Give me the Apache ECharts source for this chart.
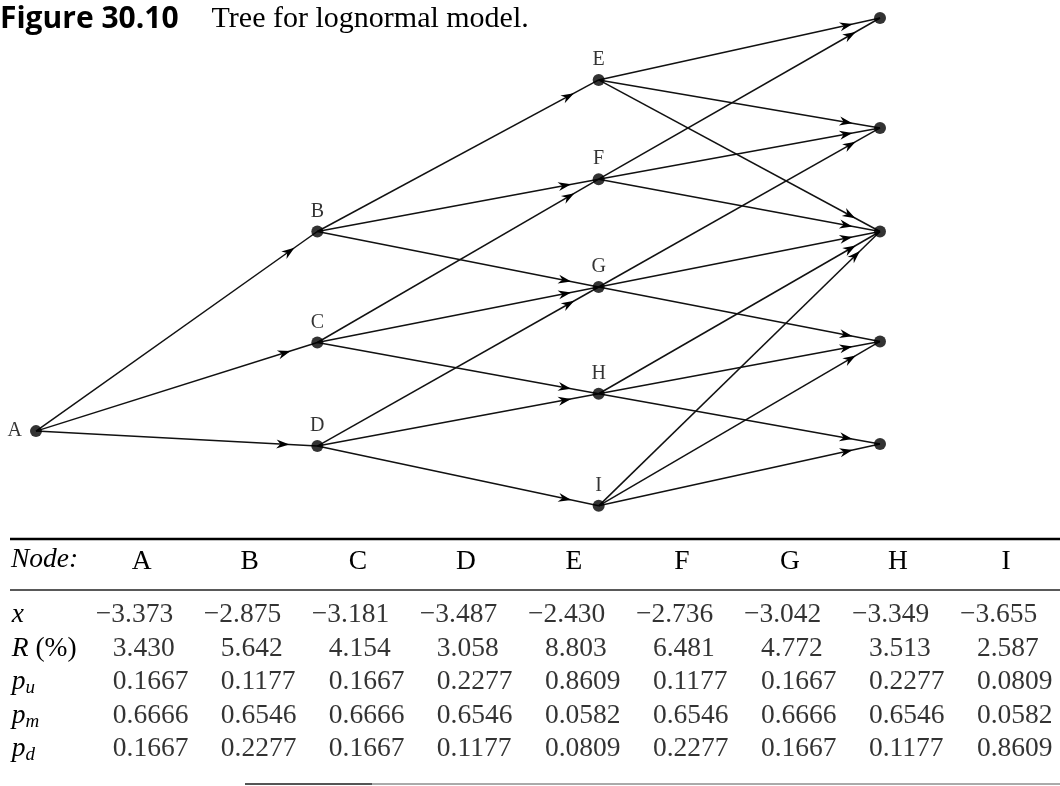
<!DOCTYPE html>
<html><head><meta charset="utf-8">
<script src="https://cdn.jsdelivr.net/npm/echarts@6/dist/echarts.min.js"></script>
<style>html,body{margin:0;padding:0;background:#fff}#c{width:1060px;height:786px}</style>
</head><body><div id="c"></div>
<script>
// ---- Tree data ----
const nodeNames  = ['A','B','C','D','E','F','G','H','I','T0','T1','T2','T3','T4'];
const nodeStep   = [0, 1, 1, 1, 2, 2, 2, 2, 2, 3, 3, 3, 3, 3];
const nodePos    = [-1.87, 0, -1.04, -2.01, 1.42, 0.49, -0.52, -1.52, -2.57, 2.0, 0.97, 0, -1.03, -1.99];
const nodeLabels = ['A','B','C','D','E','F','G','H','I','','','','',''];
const edgeFrom = ['A','A','A','B','B','B','C','C','C','D','D','D','E','E','E','F','F','F','G','G','G','H','H','H','I','I','I'];
const edgeTo   = ['B','C','D','E','F','G','F','G','H','G','H','I','T0','T1','T2','T0','T1','T2','T1','T2','T3','T2','T3','T4','T2','T3','T4'];

// ---- Table data ----
const tableNodes = ['A','B','C','D','E','F','G','H','I'];
const xValues  = [-3.373,-2.875,-3.181,-3.487,-2.430,-2.736,-3.042,-3.349,-3.655];
const rValues  = [3.430,5.642,4.154,3.058,8.803,6.481,4.772,3.513,2.587];
const puValues = [0.1667,0.1177,0.1667,0.2277,0.8609,0.1177,0.1667,0.2277,0.0809];
const pmValues = [0.6666,0.6546,0.6666,0.6546,0.0582,0.6546,0.6666,0.6546,0.0582];
const pdValues = [0.1667,0.2277,0.1667,0.1177,0.0809,0.2277,0.1667,0.1177,0.8609];
const rowLabels   = ['x','R (%)','p_u','p_m','p_d'];
const rowDecimals = [3, 3, 4, 4, 4];

const SERIF = '"Liberation Serif", "Times New Roman", serif';
const INK = '#000';
const TFS = 27.5;

const idx = {};
nodeNames.forEach((n,i)=>idx[n]=i);
const nodeData = nodeNames.map((n,i)=>{
  const d = {value:[nodeStep[i], nodePos[i], nodeLabels[i]]};
  if (n==='A') d.label = {position:'left', distance:8};
  return d;
});
const edgeData = edgeFrom.map((f,k)=>{
  const a = idx[f], b = idx[edgeTo[k]];
  return [nodeStep[a], nodePos[a], nodeStep[b], nodePos[b]];
});

const rows = [xValues, rValues, puValues, pmValues, pdValues];
const cellData = [];
rows.forEach((arr,r)=>{
  arr.forEach((v,c)=>{
    const s = Math.abs(v).toFixed(rowDecimals[r]);
    cellData.push({value:[c, r, v<0 ? '\u2212'+s : s], label:{offset:[v<0?-46:-29, 0]}});
  });
});

function rowLabelFmt(s){
  if (s==='x') return '{i|x}';
  if (s==='R (%)') return '{i|R}{n| (%)}';
  const p = s.split('_');
  return '{i|'+p[0]+'}{s|'+p[1]+'}';
}

const ARROW_GAP = 28;
const chart = echarts.init(document.getElementById('c'));
chart.setOption({
  animation:false,
  backgroundColor:'#fff',
  title:{
    left:0, top:4, padding:0,
    text:'{a|Figure 30.10}{b|Tree for lognormal model.}',
    textStyle:{rich:{
      a:{fontFamily:'"Open Sans", sans-serif', fontWeight:'bold', fontSize:30, color:INK},
      b:{fontFamily:SERIF, fontWeight:'normal', fontSize:30, color:INK, padding:[0,0,0,33]}
    }}
  },
  grid:[
    {left:36, right:180, top:18, height:533.75},
    {left:87.75, width:976.5, top:598.25, height:167.5}
  ],
  xAxis:[
    {type:'value', min:0, max:3, show:false, gridIndex:0},
    {type:'category', data:tableNodes, gridIndex:1, position:'top',
     axisLine:{show:false}, axisTick:{show:false}, splitLine:{show:false},
     axisLabel:{margin:22, fontFamily:SERIF, fontSize:TFS, color:INK}}
  ],
  yAxis:[
    {type:'value', min:-3, max:2, show:false, gridIndex:0},
    {type:'category', data:rowLabels, gridIndex:1, inverse:true,
     axisLine:{show:false}, axisTick:{show:false}, splitLine:{show:false},
     axisLabel:{align:'left', margin:76, formatter:rowLabelFmt,
       rich:{
         i:{fontFamily:SERIF, fontStyle:'italic', fontSize:TFS, color:INK},
         n:{fontFamily:SERIF, fontSize:TFS, color:INK},
         s:{fontFamily:SERIF, fontStyle:'italic', fontSize:19, color:INK, padding:[12,0,0,0]}
       }}}
  ],
  graphic:[
    {type:'text', left:11, top:546, style:{text:'Node:', font:'italic '+TFS+'px '+SERIF, fill:INK}},
    {type:'line', shape:{x1:10,y1:539,x2:1060,y2:539}, style:{stroke:INK, lineWidth:2.5}},
    {type:'line', shape:{x1:10,y1:590,x2:1060,y2:590}, style:{stroke:'#222', lineWidth:1.5}},
    {type:'line', shape:{x1:245,y1:784,x2:372,y2:784}, style:{stroke:'#555', lineWidth:2}},
    {type:'line', shape:{x1:372,y1:784,x2:1060,y2:784}, style:{stroke:'#aaa', lineWidth:2}}
  ],
  series:[
    {type:'custom', xAxisIndex:0, yAxisIndex:0, silent:true, clip:false,
     encode:{x:[0,2], y:[1,3]}, data:edgeData,
     renderItem:function(params, api){
       const p1 = api.coord([api.value(0), api.value(1)]);
       const p2 = api.coord([api.value(2), api.value(3)]);
       const dx = p2[0]-p1[0], dy = p2[1]-p1[1];
       const len = Math.hypot(dx,dy), ux = dx/len, uy = dy/len;
       const px = -uy, py = ux;
       const t = [p2[0]-ux*ARROW_GAP, p2[1]-uy*ARROW_GAP];
       const L = 13, W = 4.5, N = 4;
       const pts = [t,
         [t[0]-ux*L+px*W, t[1]-uy*L+py*W],
         [t[0]-ux*(L-N), t[1]-uy*(L-N)],
         [t[0]-ux*L-px*W, t[1]-uy*L-py*W]];
       return {type:'group', children:[
         {type:'line', shape:{x1:p1[0],y1:p1[1],x2:p2[0],y2:p2[1]}, style:{stroke:'#111', lineWidth:1.5}},
         {type:'polygon', shape:{points:pts}, style:{fill:INK}}
       ]};
     }},
    {type:'scatter', xAxisIndex:0, yAxisIndex:0, silent:true, clip:false, z:5,
     symbol:'circle', symbolSize:12, itemStyle:{color:INK},
     label:{show:true, position:'top', distance:4, formatter:p=>p.value[2],
       fontFamily:SERIF, fontSize:20, color:INK},
     data:nodeData},
    {type:'scatter', xAxisIndex:1, yAxisIndex:1, silent:true, clip:false,
     symbolSize:0, itemStyle:{color:'transparent'},
     label:{show:true, position:'inside', align:'left', verticalAlign:'middle',
       formatter:p=>p.value[2], fontFamily:SERIF, fontSize:TFS, color:INK},
     data:cellData}
  ]
});
</script></body></html>
